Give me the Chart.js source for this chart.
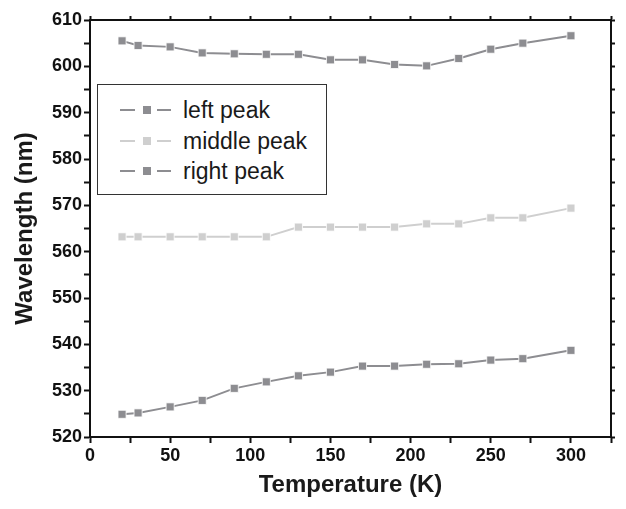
<!DOCTYPE html>
<html>
<head>
<meta charset="utf-8">
<script src="https://cdn.jsdelivr.net/npm/chart.js@4/dist/chart.umd.min.js"></script>
<style>
  html, body { margin: 0; padding: 0; background: #fff; }
  #wrap { position: relative; width: 626px; height: 509px; }
  #legend { position: absolute; left: 97px; top: 84px; width: 230px; height: 111px;
            border: 1px solid #333; box-sizing: border-box; background: #fff;
            font-family: "Liberation Sans", Arial, sans-serif; font-size: 23px; color: #1a1a1a; }
  .row { position: absolute; left: 0; height: 28px; line-height: 28px; white-space: nowrap; }
  .row .txt { position: absolute; left: 85px; top: 0; }
  .row svg { position: absolute; left: 22px; top: 9px; }
</style>
</head>
<body>
<div id="wrap">
  <canvas id="c" width="626" height="509"></canvas>
  <div id="legend"></div>
</div>
<script>
const temperatures = [20, 30, 50, 70, 90, 110, 130, 150, 170, 190, 210, 230, 250, 270, 300];
const leftPeak   = [524.9, 525.2, 526.5, 527.9, 530.5, 531.9, 533.2, 534.0, 535.3, 535.3, 535.7, 535.8, 536.6, 536.9, 538.7];
const middlePeak = [563.2, 563.2, 563.2, 563.2, 563.2, 563.2, 565.3, 565.3, 565.3, 565.3, 566.0, 566.0, 567.3, 567.3, 569.4];
const rightPeak  = [605.5, 604.5, 604.2, 602.9, 602.7, 602.6, 602.6, 601.4, 601.4, 600.4, 600.1, 601.7, 603.7, 605.0, 606.6];
const seriesNames = ["left peak", "middle peak", "right peak"];
const xTicks = [0, 50, 100, 150, 200, 250, 300];
const yTicks = [520, 530, 540, 550, 560, 570, 580, 590, 600, 610];

const dark = "#8d8d91", light = "#cfcfcf";
function pts(vals) { return temperatures.map((t, i) => ({x: t, y: vals[i]})); }
function ds(label, vals, color) {
  return { label, data: pts(vals), borderColor: color, backgroundColor: color,
    borderWidth: 2, pointStyle: 'rect', pointRadius: 5.7, pointBorderWidth: 0.8,
    pointBorderColor: '#ffffff', tension: 0 };
}
const tickFont = { family: "'Liberation Sans', Arial, sans-serif", size: 18, weight: 'bold' };
const titleFont = { family: "'Liberation Sans', Arial, sans-serif", size: 24, weight: 'bold' };

const chart = new Chart(document.getElementById('c'), {
  type: 'line',
  data: { datasets: [
    ds(seriesNames[0], leftPeak, dark),
    ds(seriesNames[1], middlePeak, light),
    ds(seriesNames[2], rightPeak, dark)
  ]},
  options: {
    responsive: false, animation: false,
    layout: { padding: { top: 16, right: 11, left: 0, bottom: 0 } },
    plugins: { legend: { display: false }, tooltip: { enabled: false } },
    scales: {
      x: { type: 'linear', position: 'bottom', min: 0, max: 325,
        afterFit: s => { s.height = 72; },
        ticks: { stepSize: 25, autoSkip: false, padding: 2, color: '#111', font: tickFont, maxRotation: 0,
          callback: v => xTicks.includes(v) ? String(v) : '' },
        grid: { drawOnChartArea: false, tickLength: 6, tickWidth: 2, tickColor: '#111' },
        border: { color: '#111', width: 2 },
        title: { display: true, text: 'Temperature (K)', color: '#1a1a1a', font: titleFont, padding: { top: 0, bottom: 9 } }
      },
      x2: { type: 'linear', position: 'top', min: 0, max: 325,
        afterFit: s => { s.height = 4; },
        ticks: { stepSize: 25, display: false },
        grid: { drawOnChartArea: false, tickLength: 4, tickWidth: 2, tickColor: '#111' },
        border: { color: '#111', width: 2 }
      },
      y: { type: 'linear', position: 'left', min: 520, max: 610,
        afterFit: s => { s.width = 90; },
        ticks: { stepSize: 5, autoSkip: false, padding: 2, color: '#111', font: tickFont,
          callback: v => yTicks.includes(v) ? String(v) : '' },
        grid: { drawOnChartArea: false, tickLength: 6, tickWidth: 2, tickColor: '#111' },
        border: { color: '#111', width: 2 },
        title: { display: true, text: 'Wavelength (nm)', color: '#1a1a1a', font: titleFont, padding: { top: 11, bottom: 0 } }
      },
      y2: { type: 'linear', position: 'right', min: 520, max: 610,
        afterFit: s => { s.width = 4; },
        ticks: { stepSize: 5, display: false },
        grid: { drawOnChartArea: false, tickLength: 4, tickWidth: 2, tickColor: '#111' },
        border: { color: '#111', width: 2 }
      }
    }
  }
});

// HTML legend built from the datasets
const legend = document.getElementById('legend');
chart.data.datasets.forEach((d, i) => {
  const row = document.createElement('div');
  row.className = 'row';
  row.style.top = (11 + i * 30.5) + 'px';
  row.innerHTML = '<svg width="52" height="10" viewBox="0 0 52 10">' +
    '<line x1="0" y1="5" x2="15" y2="5" stroke="' + d.borderColor + '" stroke-width="2"/>' +
    '<rect x="23" y="1" width="8" height="8" fill="' + d.backgroundColor + '"/>' +
    '<line x1="37" y1="5" x2="51" y2="5" stroke="' + d.borderColor + '" stroke-width="2"/>' +
    '</svg><span class="txt">' + d.label + '</span>';
  legend.appendChild(row);
});
</script>
</body>
</html>
